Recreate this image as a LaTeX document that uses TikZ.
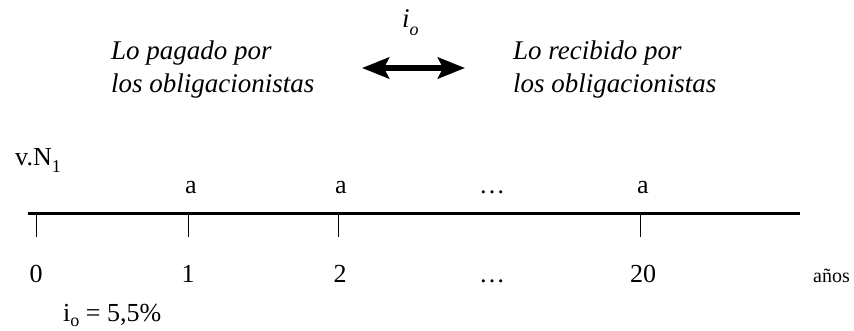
\documentclass[tikz,border=0pt]{standalone}
\usepackage{fontspec}
\setmainfont{Liberation Serif}
\usetikzlibrary{arrows.meta}
\newcommand{\lowsub}[2]{\raisebox{#1}{\fontsize{18}{18}\selectfont #2}}
\tikzset{
  lbl/.style={inner sep=0pt, font=\fontsize{26}{30}\selectfont},
  itl/.style={inner sep=0pt, font=\fontsize{27}{30}\selectfont\itshape, anchor=base west},
  unitlbl/.style={inner sep=0pt, font=\fontsize{20}{24}\selectfont, anchor=base west},
  axisline/.style={line width=3pt},
  tickline/.style={line width=1pt},
  dblarrow/.style={line width=6.5pt, {Stealth[length=27pt,width=21pt,inset=5pt]}-{Stealth[length=27pt,width=21pt,inset=5pt]}}
}
\begin{document}
\begin{tikzpicture}[x=1pt,y=-1pt]
\useasboundingbox (0,0) rectangle (854,330);
% top
\node[inner sep=0pt, anchor=base west, font=\fontsize{27}{30}\selectfont\itshape] (io) at (402,27) {i\lowsub{-0.3em}{o}};
\node[itl] (l1) at (111,59) {Lo pagado por};
\node[itl] (l2) at (111,92) {los obligacionistas};
\node[itl] (r1) at (513,59) {Lo recibido por};
\node[itl] (r2) at (513,92) {los obligacionistas};
\coordinate (arL) at (362,68);
\coordinate (arR) at (465,68);
\draw[dblarrow] (arL) -- (arR);
% time line
\node[lbl, anchor=base west] (vn) at (15,165) {v.N\lowsub{-0.3em}{1}};
\coordinate (axL) at (28,213);
\coordinate (axR) at (800,213);
\draw[axisline] (axL) -- (axR);
\foreach \n/\x in {0/36,1/188,2/338,3/640}{
  \coordinate (t\n) at (\x,213);
  \coordinate (b\n) at (\x,237);
  \draw[tickline] (t\n) -- (b\n);
}
\node[lbl, anchor=base] (a1) at (191,193) {a};
\node[lbl, anchor=base] (a2) at (341,193) {a};
\node[lbl, anchor=base] (ad) at (492,193) {\dots};
\node[lbl, anchor=base] (a3) at (643,193) {a};
\node[lbl, anchor=base] (n0) at (36,282) {0};
\node[lbl, anchor=base] (n1) at (188,282) {1};
\node[lbl, anchor=base] (n2) at (340,282) {2};
\node[lbl, anchor=base] (nd) at (492,282) {\dots};
\node[lbl, anchor=base] (n3) at (643,282) {20};
\node[unitlbl] (anos) at (813,282) {años};
\node[lbl, anchor=base west] (rate) at (63,321) {i\lowsub{-0.22em}{o} = 5,5\%};
\end{tikzpicture}
\end{document}
